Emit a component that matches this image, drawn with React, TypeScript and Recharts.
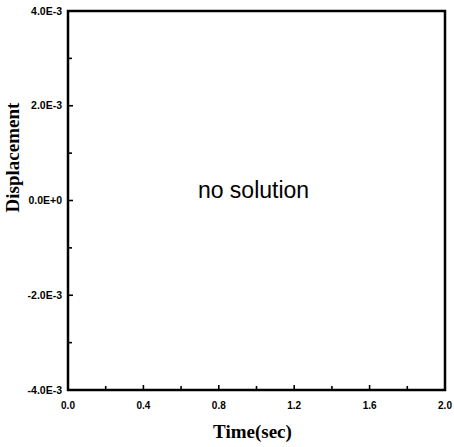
import React from "react";
import { LineChart, Line, XAxis, YAxis, ReferenceArea, Label } from "recharts";

const xTicks = [0, 0.2, 0.4, 0.6, 0.8, 1.0, 1.2, 1.4, 1.6, 1.8, 2.0];
const xMajor = [0, 0.4, 0.8, 1.2, 1.6, 2.0];
const yTicks = [-0.004, -0.003, -0.002, -0.001, 0, 0.001, 0.002, 0.003, 0.004];
const yLabels: Record<string, string> = {
  "-0.004": "-4.0E-3",
  "-0.002": "-2.0E-3",
  "0": "0.0E+0",
  "0.002": "2.0E-3",
  "0.004": "4.0E-3",
};
const seriesData: { t: number; d: number }[] = [];
const message = "no solution";

const isMajorX = (v: number) => xMajor.some((m) => Math.abs(m - v) < 1e-9);

const XTick = (props: any) => {
  const { x, y, payload } = props;
  const v = payload.value as number;
  const major = isMajorX(v);
  return (
    <g>
      <line x1={x} x2={x} y1={y} y2={y - (major ? 5 : 4)} stroke="#000" strokeWidth={1.6} />
      {major && (
        <text x={x} y={y + 19} textAnchor="middle" fontFamily="Liberation Sans, Arial, sans-serif" fontWeight="bold" fontSize={10} fill="#000">
          {v.toFixed(1)}
        </text>
      )}
    </g>
  );
};

const YTick = (props: any) => {
  const { x, y, payload } = props;
  const v = payload.value as number;
  const key = String(Math.round(v * 1000) / 1000);
  const lab = yLabels[key];
  return (
    <g>
      <line x1={x} x2={x + (lab ? 5 : 4)} y1={y} y2={y} stroke="#000" strokeWidth={1.6} />
      {lab && (
        <text x={x - 6} y={y + 3.5} textAnchor="end" fontFamily="Liberation Sans, Arial, sans-serif" fontWeight="bold" fontSize={10.5} fill="#000">
          {lab}
        </text>
      )}
    </g>
  );
};

export default function App() {
  return (
    <div style={{ position: "absolute", left: 0, top: 0 }}>
      <LineChart width={454} height={447} data={seriesData} margin={{ top: 11, right: 9, left: 0, bottom: 0 }}>
        <XAxis
          dataKey="t"
          type="number"
          domain={[0, 2]}
          ticks={xTicks}
          interval={0}
          tickSize={0}
          tickMargin={0}
          axisLine={false}
          tickLine={false}
          tick={<XTick />}
          height={57}
          allowDataOverflow
        >
          <Label
            content={(p: any) => {
              const vb = p.viewBox;
              return (
                <text x={vb.x + vb.width / 2 - 4} y={vb.y + 48} textAnchor="middle" fontFamily="Liberation Serif, Times New Roman, serif" fontWeight="bold" fontSize={19} fill="#000">
                  Time(sec)
                </text>
              );
            }}
          />
        </XAxis>
        <YAxis
          type="number"
          domain={[-0.004, 0.004]}
          ticks={yTicks}
          interval={0}
          tickSize={0}
          tickMargin={0}
          axisLine={false}
          tickLine={false}
          tick={<YTick />}
          width={68}
          allowDataOverflow
        >
          <Label
            content={(p: any) => {
              const vb = p.viewBox;
              const cx = vb.x + 13;
              const cy = vb.y + vb.height / 2 - 43;
              return (
                <text x={cx} y={cy} transform={`rotate(-90 ${cx} ${cy})`} dy={6} textAnchor="middle" fontFamily="Liberation Serif, Times New Roman, serif" fontWeight="bold" fontSize={19} fill="#000">
                  Displacement
                </text>
              );
            }}
          />
        </YAxis>
        <ReferenceArea
          x1={0}
          x2={2}
          y1={-0.004}
          y2={0.004}
          fill="none"
          stroke="#000"
          strokeWidth={2.5}
          ifOverflow="visible"
          label={(p: any) => {
            const vb = p.viewBox;
            return (
              <text x={vb.x + vb.width / 2 - 3} y={vb.y + vb.height / 2 - 3} textAnchor="middle" fontFamily="Liberation Sans, Arial, sans-serif" fontSize={23} fill="#000">
                {message}
              </text>
            );
          }}
        />
        <Line dataKey="d" stroke="#000" dot={false} isAnimationActive={false} />
      </LineChart>
    </div>
  );
}
